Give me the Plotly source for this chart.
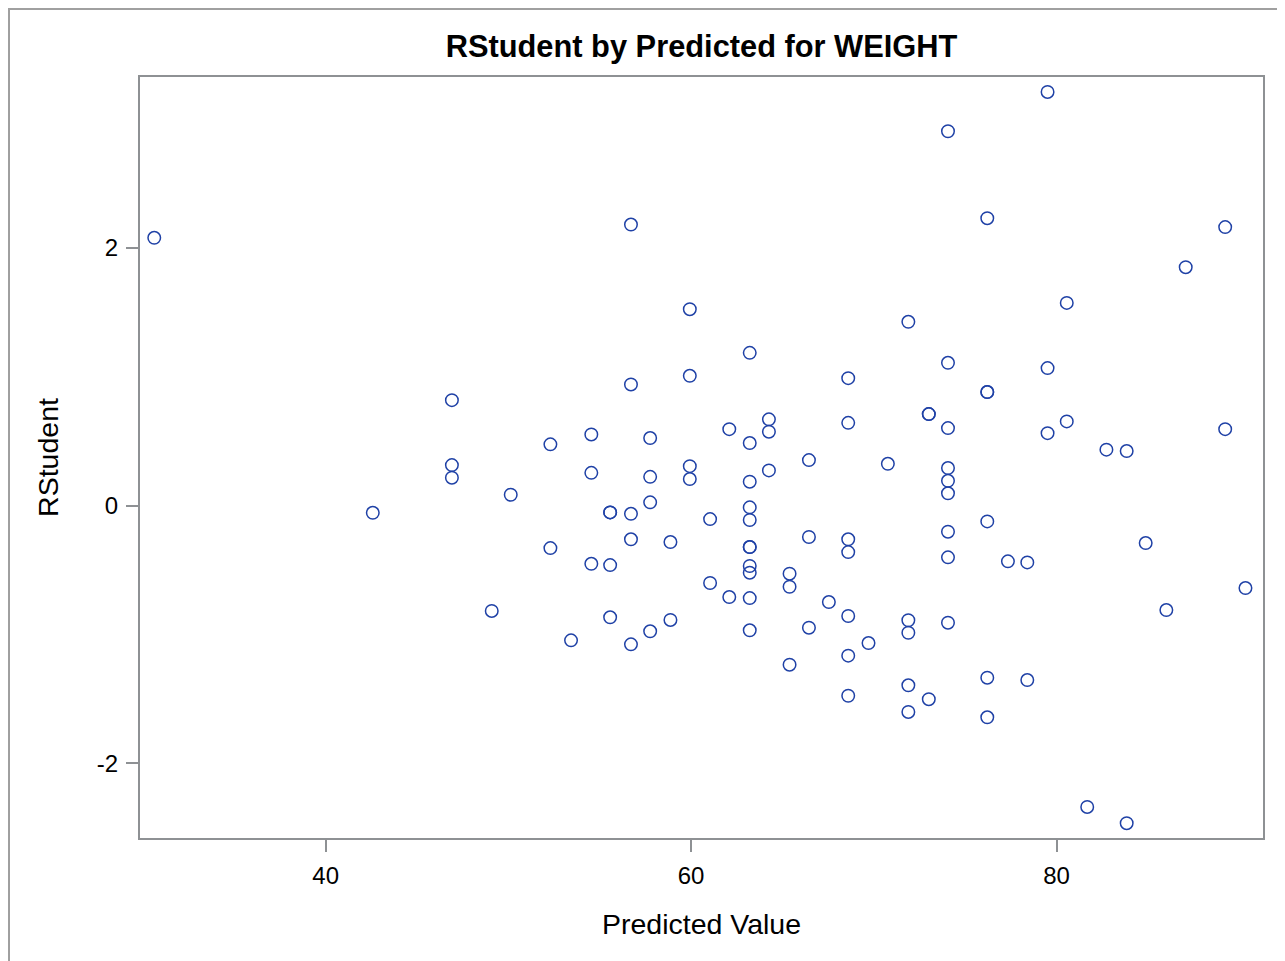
import plotly.graph_objects as go

# Predicted values (x) and RStudent residuals (y)
predicted = [
    30.62,
    42.58,
    46.91, 46.91, 46.91,
    49.09,
    50.13,
    52.30, 52.30,
    53.43,
    54.54, 54.54, 54.54,
    55.57, 55.57, 55.57, 55.57,
    56.71, 56.71, 56.71, 56.71, 56.71,
    57.76, 57.76, 57.76, 57.76,
    58.87, 58.87,
    59.93, 59.93, 59.93, 59.93,
    61.04, 61.04,
    62.09, 62.09,
    63.21, 63.21, 63.21, 63.21, 63.21, 63.21, 63.21, 63.21, 63.21, 63.21, 63.21,
    64.26, 64.26, 64.26,
    65.39, 65.39, 65.39,
    66.45, 66.45, 66.45,
    67.54,
    68.60, 68.60, 68.60, 68.60, 68.60, 68.60, 68.60,
    69.71,
    70.77,
    71.89, 71.89, 71.89, 71.89, 71.89,
    73.01, 73.01, 73.01,
    74.06, 74.06, 74.06, 74.06, 74.06, 74.06, 74.06, 74.06, 74.06,
    76.21, 76.21, 76.21, 76.21, 76.21, 76.21,
    77.34,
    78.40, 78.40,
    79.51, 79.51, 79.51,
    80.56, 80.56,
    81.68,
    82.73,
    83.84, 83.84,
    84.88,
    86.01,
    87.07,
    89.23, 89.23,
    90.34,
]
rstudent = [
    2.078,
    -0.056,
    0.818, 0.314, 0.216,
    -0.818,
    0.084,
    0.475, -0.330,
    -1.046,
    0.552, 0.254, -0.452,
    -0.053, -0.053, -0.462, -0.867,
    2.181, 0.940, -0.064, -0.262, -1.077,
    0.524, 0.223, 0.025, -0.976,
    -0.283, -0.888,
    1.524, 1.007, 0.306, 0.206,
    -0.105, -0.601,
    0.593, -0.710,
    1.185, 0.485, 0.185, -0.014, -0.112, -0.322, -0.322, -0.469, -0.521, -0.718, -0.968,
    0.669, 0.573, 0.273,
    -0.529, -0.630, -1.235,
    0.353, -0.244, -0.948,
    -0.749,
    0.989, 0.642, -0.262, -0.361, -0.857, -1.165, -1.476,
    -1.067,
    0.324,
    1.426, -0.890, -0.987, -1.395, -1.602,
    0.710, 0.710, -1.503,
    2.905, 1.108, 0.601, 0.291, 0.192, 0.095, -0.203, -0.402, -0.909,
    2.230, 0.881, 0.881, -0.123, -1.336, -1.643,
    -0.433,
    -0.441, -1.354,
    3.210, 1.067, 0.562,
    1.573, 0.653,
    -2.339,
    0.434,
    0.423, -2.465,
    -0.291,
    -0.811,
    1.850,
    2.161, 0.593,
    -0.640,
]

x_ticks = [40, 60, 80]
y_ticks = [-2, 0, 2]
ref_lines = [-2, 2]

FONT = "Liberation Sans, Arial, sans-serif"
GRAY = "#8e9194"
REF = "#a2a5a8"
MARK = "#1f41a6"

fig = go.Figure()
fig.add_trace(go.Scatter(
    x=predicted, y=rstudent, mode="markers",
    marker=dict(symbol="circle-open", size=12.5, color=MARK,
                line=dict(width=1.5, color=MARK)),
    showlegend=False, hoverinfo="x+y",
))

for r in ref_lines:
    fig.add_hline(y=r, line=dict(color=REF, width=2), layer="below")

fig.update_layout(
    width=1277, height=953,
    paper_bgcolor="white", plot_bgcolor="white",
    margin=dict(l=132, r=22, t=69, b=123, autoexpand=False),
    font=dict(family=FONT, color="black"),
    title=dict(text="<b>RStudent by Predicted for WEIGHT</b>",
               xref="paper", x=0.5, xanchor="center",
               yref="container", y=1 - 38 / 953, yanchor="middle",
               font=dict(size=30.8, family=FONT, color="black")),
    xaxis=dict(
        range=[29.84, 91.3], tickvals=x_ticks, ticktext=[str(v) for v in x_ticks],
        showgrid=False, zeroline=False,
        showline=True, linecolor=GRAY, linewidth=2, mirror=True,
        ticks="outside", ticklen=12, tickwidth=1.5, tickcolor=GRAY,
        ticklabelstandoff=3,
        tickfont=dict(size=24, family=FONT),
        title=dict(text="Predicted Value", font=dict(size=28.5, family=FONT), standoff=26),
    ),
    yaxis=dict(
        range=[-2.58, 3.326], tickvals=y_ticks, ticktext=[str(v) for v in y_ticks],
        showgrid=False, zeroline=False,
        showline=True, linecolor=GRAY, linewidth=2, mirror=True,
        ticks="outside", ticklen=12, tickwidth=1.5, tickcolor=GRAY,
        ticklabelstandoff=3,
        tickfont=dict(size=24, family=FONT),
        title=dict(text="RStudent", font=dict(size=28.5, family=FONT), standoff=30),
    ),
    shapes=[dict(type="rect", xref="paper", yref="paper",
                 x0=-0.1167, x1=1.0178, y0=-0.2, y1=1.0894,
                 line=dict(color="#a0a0a0", width=2), fillcolor="rgba(0,0,0,0)",
                 layer="below")],
)

fig.write_html("out.html")
